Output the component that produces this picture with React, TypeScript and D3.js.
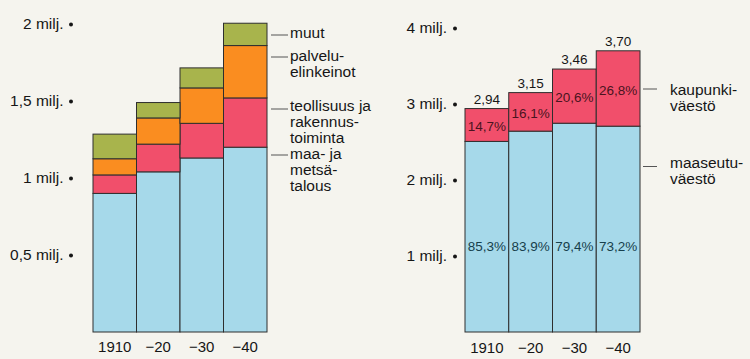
import React from "react";
import * as d3 from "d3";

// Left chart: working population by sector (millions)
const years = ["1910", "−20", "−30", "−40"];
const agriculture = [0.9, 1.04, 1.13, 1.2];
const industry = [0.12, 0.18, 0.225, 0.32];
const services = [0.105, 0.17, 0.23, 0.34];
const other = [0.16, 0.1, 0.13, 0.145];
const leftTicks = [0.5, 1, 1.5, 2];
const leftTickLabels = ["0,5 milj.", "1 milj.", "1,5 milj.", "2 milj."];

// Right chart: total population (millions) and rural share (%)
const totals = [2.94, 3.15, 3.46, 3.7];
const totalLabels = ["2,94", "3,15", "3,46", "3,70"];
const ruralPct = [85.3, 83.9, 79.4, 73.2];
const rightTicks = [1, 2, 3, 4];
const rightTickLabels = ["1 milj.", "2 milj.", "3 milj.", "4 milj."];

const fmtPct = (v: number) => v.toFixed(1).replace(".", ",") + "%";

const COLORS = {
  agriculture: "#a6d9ea",
  industry: "#f14f6b",
  services: "#fa8d20",
  other: "#a8b44c",
};
const BG = "#f5f4ee";
const TEXT = "#161616";
const FONT = "'Liberation Sans', Arial, Helvetica, sans-serif";

export default function App() {
  const W = 750, H = 359;
  const base = 332;

  // Left scales
  const xL = d3.scaleBand<string>().domain(years).range([93, 267]).padding(0);
  const yL = d3.scaleLinear().domain([0, 2]).range([base, 24]);
  const series = [
    { key: "agriculture", vals: agriculture },
    { key: "industry", vals: industry },
    { key: "services", vals: services },
    { key: "other", vals: other },
  ];
  const tableL = years.map((y, i) => {
    const o: any = { year: y };
    series.forEach((s) => (o[s.key] = s.vals[i]));
    return o;
  });
  const stack = d3.stack<any>().keys(series.map((s) => s.key))(tableL);

  // Right scales
  const xR = d3.scaleBand<string>().domain(years).range([465, 640]).padding(0);
  const yR = d3.scaleLinear().domain([0, 4]).range([base, 28]);
  const rural = totals.map((t, i) => (t * ruralPct[i]) / 100);

  const lastL = years[years.length - 1];
  const legendL = [
    { key: "other", lines: ["muut"], lineY: 35, textY: 33 },
    { key: "services", lines: ["palvelu-", "elinkeinot"], lineY: 57, textY: 55.5 },
    { key: "industry", lines: ["teollisuus ja", "rakennus-", "toiminta"], lineY: 109, textY: 105.5 },
    { key: "agriculture", lines: ["maa- ja", "metsä-", "talous"], lineY: 155, textY: 153.5 },
  ];
  const legendR = [
    { lines: ["kaupunki-", "väestö"], lineY: 89, textY: 89.5 },
    { lines: ["maaseutu-", "väestö"], lineY: 166.5, textY: 163 },
  ];

  return (
    <svg
      width={W}
      height={H}
      style={{ position: "absolute", left: 0, top: 0, display: "block" }}
      fontFamily={FONT}
    >
      <rect x={0} y={0} width={W} height={H} fill={BG} />

      {/* Left axis labels */}
      {leftTicks.map((t, i) => (
        <g key={"lt" + i}>
          <text x={63.5} y={yL(t)} dy="0.35em" textAnchor="end" fontSize={15.5} fill={TEXT}>
            {leftTickLabels[i]}
          </text>
          <circle cx={71} cy={yL(t) + 0.5} r={2} fill={TEXT} />
        </g>
      ))}

      {/* Left stacked bars */}
      {stack.map((layer) => (
        <g key={layer.key}>
          {layer.map((d, i) => (
            <rect
              key={i}
              x={xL(years[i])!}
              y={yL(d[1])}
              width={xL.bandwidth()}
              height={yL(d[0]) - yL(d[1])}
              fill={(COLORS as any)[layer.key]}
              stroke="#2e2e2e"
              strokeWidth={1}
            />
          ))}
        </g>
      ))}

      {/* Left legend */}
      {legendL.map((l) => (
        <g key={l.key}>
          <line x1={xL(lastL)! + xL.bandwidth() + 4} x2={288} y1={l.lineY} y2={l.lineY} stroke="#555" strokeWidth={1} />
          {l.lines.map((s, j) => (
            <text key={j} x={290} y={l.textY + j * 16} dy="0.35em" fontSize={15.5} fill={TEXT}>
              {s}
            </text>
          ))}
        </g>
      ))}

      {/* Left year labels */}
      {years.map((y) => (
        <text key={"ly" + y} x={xL(y)! + xL.bandwidth() / 2} y={351.5} textAnchor="middle" fontSize={15} fill={TEXT}>
          {y}
        </text>
      ))}

      {/* Right axis labels */}
      {rightTicks.map((t, i) => (
        <g key={"rt" + i}>
          <text x={447} y={yR(t)} dy="0.35em" textAnchor="end" fontSize={15.5} fill={TEXT}>
            {rightTickLabels[i]}
          </text>
          <circle cx={455} cy={yR(t) + 0.5} r={2} fill={TEXT} />
        </g>
      ))}

      {/* Right bars */}
      {years.map((y, i) => {
        const x0 = xR(y)!;
        const bw = xR.bandwidth();
        const yTop = yR(totals[i]);
        const yMid = yR(rural[i]);
        return (
          <g key={"rb" + y}>
            <rect x={x0} y={yMid} width={bw} height={yR(0) - yMid} fill={COLORS.agriculture} stroke="#2e2e2e" strokeWidth={1} />
            <rect x={x0} y={yTop} width={bw} height={yMid - yTop} fill={COLORS.industry} stroke="#2e2e2e" strokeWidth={1} />
            <text x={x0 + bw / 2} y={yTop - 9.5} dy="0.35em" textAnchor="middle" fontSize={13.5} fill={TEXT}>
              {totalLabels[i]}
            </text>
            <text x={x0 + bw / 2} y={(yTop + yMid) / 2 + 1.5} dy="0.35em" textAnchor="middle" fontSize={13.5} fill="#4a1420">
              {fmtPct(100 - ruralPct[i])}
            </text>
            <text x={x0 + bw / 2} y={246.5} dy="0.35em" textAnchor="middle" fontSize={13.5} fill="#173f4c">
              {fmtPct(ruralPct[i])}
            </text>
            <text x={x0 + bw / 2} y={353} textAnchor="middle" fontSize={15} fill={TEXT}>
              {y}
            </text>
          </g>
        );
      })}

      {/* Right legend */}
      {legendR.map((l, k) => (
        <g key={"rl" + k}>
          <line x1={643} x2={657} y1={l.lineY} y2={l.lineY} stroke="#555" strokeWidth={1} />
          {l.lines.map((s, j) => (
            <text key={j} x={670} y={l.textY + j * 16} dy="0.35em" fontSize={15.5} fill={TEXT}>
              {s}
            </text>
          ))}
        </g>
      ))}
    </svg>
  );
}
